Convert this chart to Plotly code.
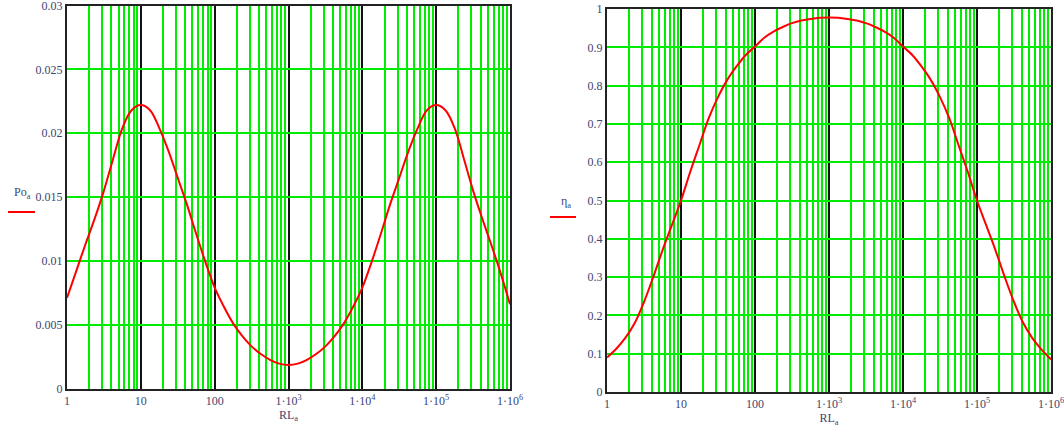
import plotly.graph_objects as go

# Load resistance RL_a (log-spaced samples, 8 per decade)
rl = [1, 1.334, 1.778, 2.371, 3.162, 4.217, 5.623, 7.499,
      10, 13.34, 17.78, 23.71, 31.62, 42.17, 56.23, 74.99,
      100, 133.4, 177.8, 237.1, 316.2, 421.7, 562.3, 749.9,
      1000, 1334, 1778, 2371, 3162, 4217, 5623, 7499,
      1e4, 13335, 17783, 23714, 31623, 42170, 56234, 74989,
      1e5, 133352, 177828, 237137, 316228, 421697, 562341, 749894,
      1e6]

# Output power Po_a
po = [0.0071, 0.0092, 0.0113, 0.0133, 0.0155, 0.0180, 0.0204, 0.0218,
      0.0222, 0.0218, 0.0204, 0.0186, 0.0165, 0.0144, 0.0121, 0.0099,
      0.0079, 0.0064, 0.0051, 0.0041, 0.0033, 0.0027, 0.00225, 0.00195,
      0.00185, 0.00195, 0.00225, 0.0027, 0.0033, 0.0041, 0.0051, 0.0064,
      0.0079, 0.0099, 0.0121, 0.0144, 0.0165, 0.0186, 0.0204, 0.0218,
      0.0222, 0.0218, 0.0204, 0.0180, 0.0155, 0.0133, 0.0112, 0.0090,
      0.0066]

# Efficiency eta_a
eta = [0.090, 0.113, 0.142, 0.180, 0.235, 0.300, 0.370, 0.435,
       0.500, 0.575, 0.645, 0.715, 0.770, 0.815, 0.850, 0.880,
       0.902, 0.925, 0.941, 0.953, 0.963, 0.970, 0.974, 0.977,
       0.978, 0.977, 0.974, 0.970, 0.963, 0.953, 0.941, 0.925,
       0.902, 0.880, 0.850, 0.815, 0.770, 0.715, 0.645, 0.575,
       0.500, 0.435, 0.370, 0.300, 0.235, 0.180, 0.140, 0.110,
       0.085]

x_tickvals = [1, 10, 100, 1e3, 1e4, 1e5, 1e6]
x_ticktext = ["1", "10", "100", "1·10<sup>3</sup>", "1·10<sup>4</sup>",
              "1·10<sup>5</sup>", "1·10<sup>6</sup>"]
po_ticks = [0, 0.005, 0.01, 0.015, 0.02, 0.025, 0.03]
po_ticktext = ["0", "0.005", "0.01", "0.015", "0.02", "0.025", "0.03"]
eta_ticks = [0, 0.1, 0.2, 0.3, 0.4, 0.5, 0.6, 0.7, 0.8, 0.9, 1.0]
eta_ticktext = ["0", "0.1", "0.2", "0.3", "0.4", "0.5", "0.6", "0.7", "0.8", "0.9", "1"]

W, H = 1064, 435
FONT = "Liberation Serif, Times New Roman, serif"
TXT = "#3c4570"
GREEN = "#00ec00"

M_L, M_R, M_T, M_B = 60, 8, 5, 43
pw = W - M_L - M_R
ph = H - M_T - M_B

def px(xp):
    return (xp - M_L) / pw

def py(yp):
    return (H - M_B - yp) / ph

fig = go.Figure()
fig.add_trace(go.Scatter(x=rl, y=po, mode="lines", line=dict(color="red", width=2, shape="spline"),
                         xaxis="x", yaxis="y", showlegend=False, hoverinfo="skip"))
fig.add_trace(go.Scatter(x=rl, y=eta, mode="lines", line=dict(color="red", width=2, shape="spline"),
                         xaxis="x2", yaxis="y2", showlegend=False, hoverinfo="skip"))

def xax(domain, anchor):
    return dict(type="log", range=[0, 6], domain=domain, anchor=anchor,
                tickvals=x_tickvals, ticktext=x_ticktext, ticks="", automargin=False,
                ticklabeloverflow="allow",
                showgrid=True, gridcolor="#111111", gridwidth=1.8,
                minor=dict(dtick="D1", showgrid=True, gridcolor=GREEN, gridwidth=1.6, ticks=""),
                showline=True, linecolor="#222222", linewidth=2, mirror=True,
                tickfont=dict(family=FONT, size=12, color=TXT), zeroline=False,
                title=dict(text="RL<sub>a</sub>", font=dict(family=FONT, size=12, color=TXT), standoff=0))

def yax(domain, anchor, rng, tv, tt):
    return dict(range=rng, domain=domain, anchor=anchor, tickvals=tv, ticktext=tt, ticks="",
                showgrid=True, gridcolor=GREEN, gridwidth=1.6, zeroline=False, automargin=False,
                ticklabeloverflow="allow",
                showline=True, linecolor="#222222", linewidth=2, mirror=True,
                tickfont=dict(family=FONT, size=12, color=TXT))

fig.update_layout(
    width=W, height=H, paper_bgcolor="white", plot_bgcolor="white",
    margin=dict(l=M_L, r=M_R, t=M_T, b=M_B),
    xaxis=xax([px(67), px(510)], "y"),
    yaxis=yax([py(388.5), py(5.5)], "x", [0, 0.03], po_ticks, po_ticktext),
    xaxis2=xax([px(607), px(1051)], "y2"),
    yaxis2=yax([py(392), py(9)], "x2", [0, 1], eta_ticks, eta_ticktext),
    annotations=[
        dict(text="Po<sub>a</sub>", x=px(22), y=py(193), xref="paper", yref="paper",
             xanchor="center", yanchor="middle", showarrow=False,
             font=dict(family=FONT, size=12, color=TXT)),
        dict(text="η<sub>a</sub>", x=px(566), y=py(202), xref="paper", yref="paper",
             xanchor="center", yanchor="middle", showarrow=False,
             font=dict(family=FONT, size=12, color=TXT)),
    ],
    shapes=[
        dict(type="line", xref="paper", yref="paper", x0=px(8), x1=px(35),
             y0=py(212), y1=py(212), line=dict(color="red", width=2)),
        dict(type="line", xref="paper", yref="paper", x0=px(550), x1=px(576),
             y0=py(217), y1=py(217), line=dict(color="red", width=2)),
    ],
)

fig.write_html("out.html", config={"displayModeBar": False},
               post_script="document.body.style.margin='0';document.body.style.overflow='hidden';")
